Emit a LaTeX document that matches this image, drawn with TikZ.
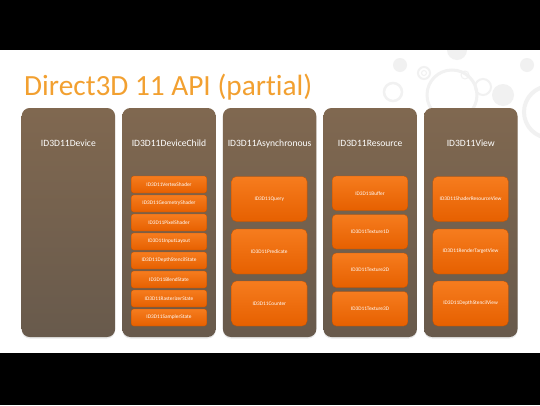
\documentclass[tikz,border=0pt]{standalone}
\usepackage{fontspec}
\setmainfont[Ligatures={NoCommon}]{Carlito}
\usetikzlibrary{shadows}
\definecolor{titleor}{RGB}{242,160,48}
\definecolor{coltop}{RGB}{128,104,80}
\definecolor{colbot}{RGB}{104,90,76}
\definecolor{boxtop}{RGB}{246,124,30}
\definecolor{boxbot}{RGB}{230,96,0}
\definecolor{deco}{RGB}{241,241,241}
\begin{document}
\begin{tikzpicture}[x=1pt,y=-1pt,
  column/.style={anchor=north west, minimum width=93.4pt, minimum height=229pt,
    inner sep=0pt, outer sep=0pt, rounded corners=8pt, top color=coltop, bottom color=colbot,
    drop shadow={opacity=0.18, shadow xshift=0pt, shadow yshift=-1.5pt}},
  header/.style={anchor=base, text=white, font=\fontsize{9.6}{11}\selectfont, inner sep=0pt},
  itembox/.style={anchor=north, minimum width=75.6pt, inner sep=0pt, outer sep=0pt,
    top color=boxtop, bottom color=boxbot, draw=boxbot!85!black, line width=0.3pt,
    text=white, font=\fontsize{5.35}{6}\selectfont},
  smallbox/.style={itembox, minimum height=17pt, rounded corners=2.5pt},
  midbox/.style={itembox, minimum height=34.5pt, rounded corners=4pt},
  bigbox/.style={itembox, minimum height=45pt, rounded corners=5pt},
  ring/.style={draw=deco},
  dot/.style={fill=deco}]
\useasboundingbox (0,0) rectangle (540,405);
\fill[white] (0,0) rectangle (540,405);
% decoration circles
\fill[dot] (400,65) circle (7);
\draw[ring, line width=2pt] (424,73) circle (6);
\draw[ring, line width=1pt] (424,73) circle (2.5);
\draw[ring, line width=3pt] (452,95) circle (25);
\fill[dot] (457,50) circle (10);
\draw[ring, line width=2.5pt] (393,92) circle (9);
\draw[ring, line width=1pt] (465,75) circle (4);
\draw[ring, line width=2pt] (483,87) circle (8);
\fill[dot] (503,95) circle (11);
\fill[dot] (527,65) circle (7);
\draw[ring, line width=4pt] (550,112) circle (26);
\draw[ring, line width=1.5pt] (448,118) circle (5);
% black bands
\fill[black] (0,0) rectangle (540,50);
\fill[black] (0,353) rectangle (540,405);
% title
\node[anchor=base west, inner sep=0pt, text=titleor, font=\fontsize{29.3}{34}\selectfont] (title) at (24,95) {Direct3D 11 API (partial)};
% columns
\node[column] (c1) at (21.7,108) {};
\node[column] (c2) at (122.3,108) {};
\node[column] (c3) at (222.9,108) {};
\node[column] (c4) at (323.5,108) {};
\node[column] (c5) at (424.1,108) {};
\node[header] (h1) at (68.4,146) {ID3D11Device};
\node[header] (h2) at (169.0,146) {ID3D11DeviceChild};
\node[header] (h3) at (269.6,146) {ID3D11Asynchronous};
\node[header] (h4) at (370.2,146) {ID3D11Resource};
\node[header] (h5) at (470.8,146) {ID3D11View};
% column 2
\node[smallbox] (b21) at (169.0,176) {ID3D11VertexShader};
\node[smallbox] (b22) at (169.0,195) {ID3D11GeometryShader};
\node[smallbox] (b23) at (169.0,214) {ID3D11PixelShader};
\node[smallbox] (b24) at (169.0,233) {ID3D11InputLayout};
\node[smallbox] (b25) at (169.0,252) {ID3D11DepthStencilState};
\node[smallbox] (b26) at (169.0,271) {ID3D11BlendState};
\node[smallbox] (b27) at (169.0,290) {ID3D11RasterizerState};
\node[smallbox] (b28) at (169.0,309) {ID3D11SamplerState};
% column 3
\node[bigbox] (b31) at (269.3,176.5) {ID3D11Query};
\node[bigbox] (b32) at (269.3,229) {ID3D11Predicate};
\node[bigbox] (b33) at (269.3,281) {ID3D11Counter};
% column 4
\node[midbox] (b41) at (370.0,176) {ID3D11Buffer};
\node[midbox] (b42) at (370.0,214.5) {ID3D11Texture1D};
\node[midbox] (b43) at (370.0,253) {ID3D11Texture2D};
\node[midbox] (b44) at (370.0,291.5) {ID3D11Texture3D};
% column 5
\node[bigbox] (b51) at (470.6,176.5) {ID3D11ShaderResourceView};
\node[bigbox] (b52) at (470.6,229) {ID3D11RenderTargetView};
\node[bigbox] (b53) at (470.6,281) {ID3D11DepthStencilView};
\end{tikzpicture}
\end{document}
